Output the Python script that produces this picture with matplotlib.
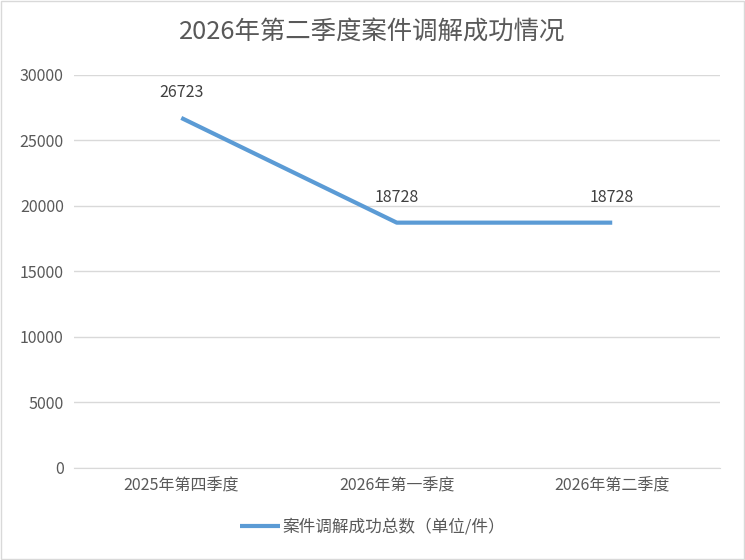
import matplotlib
matplotlib.use("Agg")
import matplotlib.pyplot as plt
from matplotlib.patches import Rectangle

plt.rcParams['font.family'] = ['Noto Sans CJK SC', 'DejaVu Sans']

quarters = ["2025年第四季度", "2026年第一季度", "2026年第二季度"]
cases = [26723, 18728, 18728]
yticks = [0, 5000, 10000, 15000, 20000, 25000, 30000]

text_color = "#595959"
line_color = "#5B9BD5"
grid_color = "#D9D9D9"

fig = plt.figure(figsize=(7.45, 5.6), dpi=100)
ax = fig.add_axes([0.0987, 0.1643, 0.8677, 0.7018])

x = list(range(len(quarters)))
ax.plot(x, cases, color=line_color, linewidth=3, solid_capstyle="butt",
        label="案件调解成功总数（单位/件）")
for xi, v in zip(x, cases):
    ax.annotate(str(v), (xi, v), xytext=(0, 18), textcoords="offset points",
                ha="center", va="center", fontsize=11.5, color="#404040")

ax.set_xlim(-0.5, len(quarters) - 0.5)
ax.set_ylim(0, 30000)
ax.set_yticks(yticks)
ax.set_yticklabels([str(t) for t in yticks])
ax.set_xticks(x)
ax.set_xticklabels(quarters)
ax.tick_params(axis="both", length=0, colors=text_color, labelsize=11.5)
ax.tick_params(axis="y", pad=7)
ax.tick_params(axis="x", pad=7)
ax.grid(axis="y", color=grid_color, linewidth=1)
ax.set_axisbelow(True)
for s in ["top", "right", "left"]:
    ax.spines[s].set_visible(False)
ax.spines["bottom"].set_color(grid_color)

fig.text(0.5, 1 - 33 / 560, "2026年第二季度案件调解成功情况", ha="center", va="center",
         fontsize=18.3, color=text_color)

fig.legend(loc="center", bbox_to_anchor=(0.5, 1 - 527 / 560), frameon=False,
           fontsize=12, labelcolor=text_color, handlelength=2.4, handletextpad=0.2)

fig.patches.append(Rectangle((0.002, 0.002), 0.996, 0.996, transform=fig.transFigure,
                             fill=False, edgecolor=grid_color, linewidth=1))

fig.savefig("out.png", dpi=100)
